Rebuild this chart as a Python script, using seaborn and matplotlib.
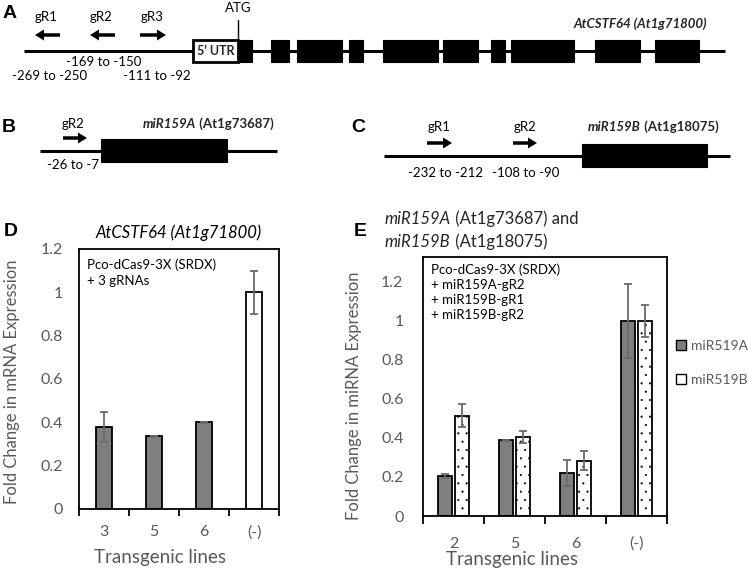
import matplotlib
matplotlib.use('Agg')
import matplotlib.pyplot as plt
import seaborn as sns
import pandas as pd
import numpy as np
from matplotlib.patches import Rectangle, FancyArrow, Patch

# ---------------- data ----------------
d_lines = ['3', '5', '6', '(-)']
d_values = [0.378, 0.335, 0.400, 1.000]
d_errors = [0.069, 0.003, 0.002, 0.100]

e_lines = ['2', '5', '6', '(-)']
e_genes = ['miR519A', 'miR519B']
e_mir519a = [0.205, 0.388, 0.220, 1.000]
e_mir519a_err = [0.012, 0.003, 0.066, 0.190]
e_mir519b = [0.515, 0.405, 0.284, 1.000]
e_mir519b_err = [0.058, 0.032, 0.048, 0.080]

y_ticks = [0, 0.2, 0.4, 0.6, 0.8, 1.0, 1.2]
y_tick_labels = ['0', '0.2', '0.4', '0.6', '0.8', '1', '1.2']

# gene schematics (schematic pixel units)
a_utr = (193, 238)
a_exons = [(238, 252.5), (270.6, 289.4), (296.7, 342), (349, 362.6), (383, 437.6),
           (443.4, 477.8), (490.9, 505), (511.5, 574.2), (595.2, 640), (654.6, 698.8)]
a_guides = ['gR1', 'gR2', 'gR3']
a_guide_span = [(35, 60), (90, 115), (140, 166)]
a_guide_dir = [-1, -1, 1]
a_guide_pos_labels = ['-269 to -250', '-169 to -150', '-111 to -92']

b_exon = (101, 227)
c_exon = (582, 707)
c_guides = ['gR1', 'gR2']
c_guide_span = [(427, 452), (513, 537)]
c_guide_pos_labels = ['-232 to -212', '-108 to -90']

GRAY = '#7f7f7f'
TXT = '#595959'
ERR = '#6a6a6a'

sns.set_theme(style='white')
plt.rcParams['font.family'] = ['Lato', 'DejaVu Sans']
plt.rcParams['hatch.color'] = '#555555'
plt.rcParams['hatch.linewidth'] = 0.3

fig = plt.figure(figsize=(7.48, 5.73), dpi=100)

# ---------------- overlay for schematics ----------------
ov = fig.add_axes([0, 0, 1, 1])
ov.set_xlim(0, 748)
ov.set_ylim(573, 0)
ov.axis('off')

LET = dict(family=['Liberation Sans', 'DejaVu Sans'], fontweight='bold', fontsize=14,
           ha='center', va='center', color='black')
ov.text(10, 13, 'A', **LET)
ov.text(9, 128, 'B', **LET)
ov.text(358, 128, 'C', **LET)
ov.text(11, 232, 'D', **LET)
ov.text(360, 232, 'E', **LET)

SMALL = dict(fontsize=9.5, ha='center', va='center', color='black')

def arrow(x0, x1, direction, y):
    if direction > 0:
        tail, dx = x0, x1 - x0
    else:
        tail, dx = x1, x0 - x1
    ov.add_patch(FancyArrow(tail, y, dx, 0, width=3.5, head_width=11, head_length=9,
                            length_includes_head=True, color='black', lw=0))

# Panel A
ov.plot([24, 725], [51, 51], color='black', lw=2.2, solid_capstyle='butt')
ov.add_patch(Rectangle((a_utr[0], 40), a_utr[1] - a_utr[0], 22, facecolor='white',
                       edgecolor='black', lw=2, zorder=3))
ov.text(sum(a_utr) / 2, 51, "5' UTR", fontsize=9, fontweight='bold', ha='center',
        va='center', zorder=4)
for s, e in a_exons:
    ov.add_patch(Rectangle((s, 40), e - s, 22, facecolor='black', edgecolor='black',
                           lw=0.8, zorder=3))
ov.plot([238, 238], [20, 40], color='black', lw=1)
ov.text(238, 8, 'ATG', **SMALL)
for name, (x0, x1), d in zip(a_guides, a_guide_span, a_guide_dir):
    arrow(x0, x1, d, 35)
    ov.text((x0 + x1) / 2 - 1, 17, name, **SMALL)
ov.text(50, 76, a_guide_pos_labels[0], **SMALL)
ov.text(104, 62, a_guide_pos_labels[1], **SMALL)
ov.text(157, 76, a_guide_pos_labels[2], **SMALL)
ov.text(707, 24, 'AtCSTF64 (At1g71800)', fontsize=9.5, fontweight='bold',
        style='italic', ha='right', va='center')

# Panel B
ov.plot([40, 277], [151, 151], color='black', lw=2.2, solid_capstyle='butt')
ov.add_patch(Rectangle((b_exon[0], 139), b_exon[1] - b_exon[0], 23, facecolor='black',
                       edgecolor='black', lw=0.8, zorder=3))
arrow(63, 87, 1, 138)
ov.text(73, 124, 'gR2', **SMALL)
ov.text(73, 165, '-26 to -7', **SMALL)
tb = ov.text(143, 124, 'miR159A', fontsize=9.5, fontweight='bold', style='italic',
             ha='left', va='center')
ov.annotate(' (At1g73687)', xy=(1, 0.5), xycoords=tb, fontsize=9.5, fontweight='bold',
            ha='left', va='center')

# Panel C
ov.plot([384, 730], [156, 156], color='black', lw=2.2, solid_capstyle='butt')
ov.add_patch(Rectangle((c_exon[0], 144), c_exon[1] - c_exon[0], 23, facecolor='black',
                       edgecolor='black', lw=0.8, zorder=3))
for name, (x0, x1), lab, lx in zip(c_guides, c_guide_span, c_guide_pos_labels, [446, 526]):
    arrow(x0, x1, 1, 143)
    ov.text((x0 + x1) / 2, 127, name, **SMALL)
    ov.text(lx, 173, lab, **SMALL)
tc = ov.text(588, 127, 'miR159B', fontsize=9.5, fontweight='bold', style='italic',
             ha='left', va='center')
ov.annotate(' (At1g18075)', xy=(1, 0.5), xycoords=tc, fontsize=9.5, fontweight='bold',
            ha='left', va='center')

# ---------------- common axis styling ----------------
def style_axes(ax, ypad, xpad, ticklen):
    for sp in ax.spines.values():
        sp.set_visible(True)
        sp.set_color('black')
        sp.set_linewidth(1.3)
    ax.set_yticks(y_ticks)
    ax.set_yticklabels(y_tick_labels)
    ax.set_xlim(-0.5, 3.5)
    ax.set_xticks(np.arange(-0.5, 4, 1), minor=True)
    ax.tick_params(axis='x', which='major', length=0, pad=xpad, labelsize=11.5,
                   labelcolor=TXT)
    ax.tick_params(axis='x', which='minor', bottom=True, length=ticklen, width=1.3,
                   color='black', direction='out')
    ax.tick_params(axis='y', which='both', left=False, length=0, pad=ypad,
                   labelsize=11.5, labelcolor=TXT)

# ---------------- Panel D ----------------
axD = fig.add_axes([79 / 748, 1 - 509 / 573, 200 / 748, 260 / 573])
df_d = pd.DataFrame({'line': d_lines, 'value': d_values,
                     'kind': ['test', 'test', 'test', 'control']})
sns.barplot(data=df_d, x='line', y='value', hue='kind',
            palette={'test': GRAY, 'control': 'white'}, dodge=False, width=0.32,
            edgecolor='black', linewidth=1.3, errorbar=None, legend=False, ax=axD)
axD.errorbar(np.arange(len(d_lines)), d_values, yerr=d_errors, fmt='none', ecolor=ERR,
             elinewidth=1.3, capsize=3, capthick=1.3, zorder=5)
axD.set_ylim(0, 1.2)
style_axes(axD, ypad=11.5, xpad=11.5, ticklen=5)
axD.set_ylabel('Fold Change in mRNA Expression', fontsize=12, color=TXT)
axD.yaxis.set_label_coords(-0.295, 0.49)
axD.set_xlabel('Transgenic lines', fontsize=13.5, color=TXT, va='center')
axD.xaxis.set_label_coords(0.405, -0.188)
axD.set_title('AtCSTF64 (At1g71800)', fontsize=12, style='italic', color='black',
              pad=8)
axD.text(0.04, 0.965, 'Pco-dCas9-3X (SRDX)\n+ 3 gRNAs', transform=axD.transAxes,
         fontsize=9.5, ha='left', va='top', linespacing=1.45, color='black')

# ---------------- Panel E ----------------
axE = fig.add_axes([423 / 748, 1 - 516 / 573, 244 / 748, 259 / 573])
df_e = pd.DataFrame({'line': e_lines * 2,
                     'gene': [e_genes[0]] * 4 + [e_genes[1]] * 4,
                     'value': e_mir519a + e_mir519b})
sns.barplot(data=df_e, x='line', y='value', hue='gene',
            palette={e_genes[0]: GRAY, e_genes[1]: 'white'}, width=0.57, gap=0.17,
            edgecolor='black', linewidth=1.3, errorbar=None, legend=False, ax=axE)
for bar in axE.containers[1]:
    bar.set_hatch('..')
for cont, errs in zip(axE.containers, [e_mir519a_err, e_mir519b_err]):
    xs = [b.get_x() + b.get_width() / 2 for b in cont]
    ys = [b.get_height() for b in cont]
    axE.errorbar(xs, ys, yerr=errs, fmt='none', ecolor=ERR, elinewidth=1.3,
                 capsize=3, capthick=1.3, zorder=5)
axE.set_ylim(0, 1.328)
style_axes(axE, ypad=14, xpad=15, ticklen=6)
axE.set_ylabel('Fold Change in miRNA Expression', fontsize=12, color=TXT)
axE.yaxis.set_label_coords(-0.25, 0.463)
axE.set_xlabel('Transgenic lines', fontsize=13.5, color=TXT, va='center')
axE.xaxis.set_label_coords(0.365, -0.168)
axE.text(0.033, 0.975, 'Pco-dCas9-3X (SRDX)\n+ miR159A-gR2\n+ miR159B-gR1\n+ miR159B-gR2',
         transform=axE.transAxes, fontsize=9.5, ha='left', va='top', linespacing=1.3,
         color='black')
handles = [Patch(facecolor=GRAY, edgecolor='black', lw=1),
           Patch(facecolor='white', edgecolor='black', lw=1)]
leg = axE.legend(handles, e_genes, loc='upper left', bbox_to_anchor=(676 / 748, 1 - 340 / 573),
                 bbox_transform=fig.transFigure, frameon=False, handlelength=0.75,
                 handleheight=0.75, handletextpad=0.3, labelspacing=1.6, borderpad=0,
                 borderaxespad=0, fontsize=10)
for t in leg.get_texts():
    t.set_color(TXT)

# E title (mixed styles)
t1 = fig.text(385 / 748, 1 - 219 / 573, 'miR159A', fontsize=12, style='italic',
              ha='left', va='center')
ov.annotate(' (At1g73687) and', xy=(1, 0.5), xycoords=t1, fontsize=12, ha='left',
            va='center')
t2 = fig.text(385 / 748, 1 - 242 / 573, 'miR159B', fontsize=12, style='italic',
              ha='left', va='center')
ov.annotate(' (At1g18075)', xy=(1, 0.5), xycoords=t2, fontsize=12, ha='left',
            va='center')

fig.savefig('out.png', dpi=100)
